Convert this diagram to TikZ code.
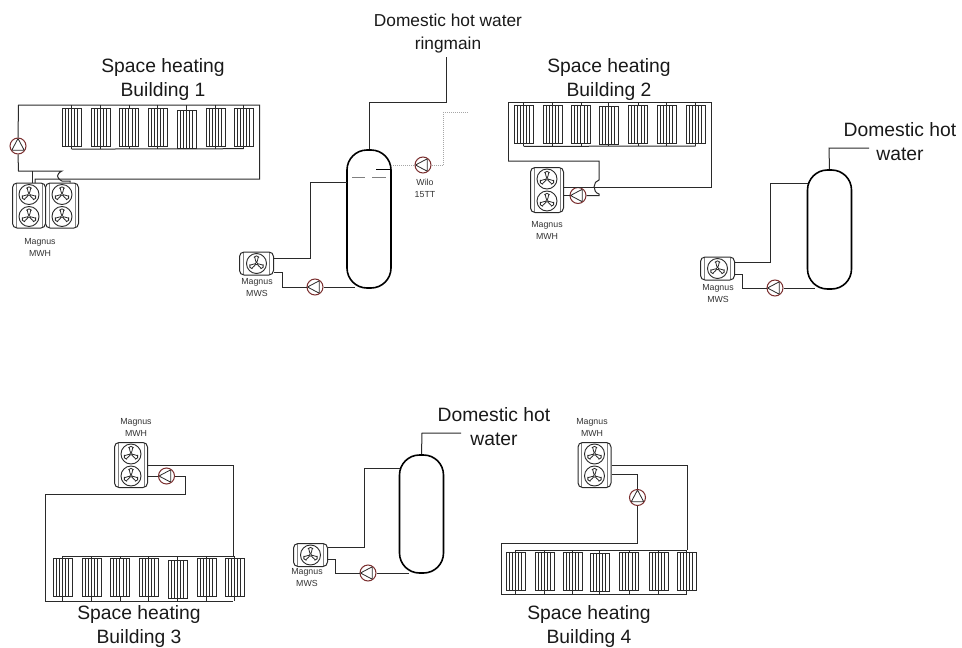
\documentclass[tikz,border=0pt]{standalone}
\usepackage{fontspec}
\setmainfont{Liberation Sans}
\definecolor{pumpred}{HTML}{7A2E2E}
\definecolor{pipe}{HTML}{2A2A2A}
\newcommand{\onefan}[2]{%
  \draw[line width=.9pt,pipe] (#1,#2) circle[radius=10];
  \foreach \a in {270,30,150}{%
    \draw[line width=.8pt,pipe] (#1,#2) .. controls ([shift={(#1,#2)}]\a+22:5) and ([shift={(#1,#2)}]\a+10:8) .. ([shift={(#1,#2)}]\a:9.8) .. controls ([shift={(#1,#2)}]\a-10:8) and ([shift={(#1,#2)}]\a-22:5) .. (#1,#2);}%
  \fill[white] (#1,#2) circle[radius=1.3];
  \draw[line width=.6pt,pipe] (#1,#2) circle[radius=1.3];
}
\tikzset{
  x=1pt,y=-1pt,
  pipeline/.style={draw=pipe,line width=1pt},
  dotline/.style={draw=gray!70,line width=1pt,densely dotted},
  biglabel/.style={font=\fontsize{19.3}{24}\selectfont,text=black!90,align=center,inner sep=0pt},
  toplabel/.style={font=\fontsize{17.3}{23}\selectfont,text=black!90,align=center,inner sep=0pt},
  smalllabel/.style={font=\fontsize{8.8}{12}\selectfont,text=black!80,align=center,inner sep=0pt},
  tank/.style={draw=black,line width=1.6pt,rounded corners=20pt,minimum width=44pt,inner sep=0pt,fill=white},
  pumpbase/.style={circle,draw=pumpred,line width=1pt,minimum size=16pt,inner sep=0pt,fill=white},
  pumpup/.style={pumpbase,path picture={\draw[pipe,line width=.8pt] (0,-7.5)--(-6.2,4.2)--(6.2,4.2)--cycle;}},
  pumpleft/.style={pumpbase,path picture={\draw[pipe,line width=.8pt] (-7.5,0)--(4.2,-6.2)--(4.2,6.2)--cycle;}},
  radiator/.style={draw=pipe,line width=.8pt,minimum width=19pt,minimum height=38pt,inner sep=0pt,fill=white,
    path picture={\foreach \q in {-6.5,-3.5,-0.5,3,6}{\draw[pipe,line width=.8pt] (\q,-20)--(\q,20);}}},
  unitbase/.style={draw=pipe,line width=1pt,rounded corners=4.5pt,inner sep=0pt,fill=white},
  twinfan/.style={unitbase,minimum width=33pt,minimum height=45pt,
    path picture={\draw[gray,line width=1pt] (-13,-24)--(-13,24) (13,-24)--(13,24);\onefan{0}{-11}\onefan{0}{11}}},
  onefanunit/.style={unitbase,minimum width=34pt,minimum height=23pt,
    path picture={\draw[gray,line width=1pt] (-13,-13)--(-13,13) (13,-13)--(13,13);\onefan{0}{0}}},
}
\newcommand{\radrow}[5]{% prefix, list x/y, top rail, bottom rail, tick offset
  \foreach \rx/\ry [count=\ri] in {#2}{%
    \node[radiator] (#1\ri) at (\rx+9.5,\ry) {};
    \draw[pipeline,line width=.8pt] (#1\ri.north) -- (#1\ri.north |- 0,#3);
    \draw[pipeline,line width=.8pt] (#1\ri.south) -- (#1\ri.south |- 0,#4);
  }%
}
\begin{document}
\begin{tikzpicture}
\useasboundingbox (0,0) rectangle (962,648);
% ---------- Building 1
\radrow{ra}{62/127,91/127,119.5/127,148/127,177/129,206/127,234/127}{105}{148.7}{0}
\node[pumpup] (pa) at (18,146) {};
\node[twinfan] (ua) at (29,205.5) {};
\node[twinfan] (ub) at (62,205.5) {};
\draw[pipeline] (pa.north) -- (18.5,105) -- (259.5,105) -- (259.5,179) -- (35,179) -- (35,183);
\draw[pipeline] (ra1.south) ++(0,2.7) -- (ra7.south |- 0,148.7);
\draw[pipeline] (pa.south) -- (18.5,171) -- (62,171) .. controls (56,174) and (56,178) .. (62,181) -- (70,181) -- (ub.north -| 70,0);
\draw[pipeline] (32,171) -- (32,183);
\node[smalllabel] (la) at (40,247) {Magnus\\MWH};
\node[biglabel] (ta) at (163,80) {Space heating\\Building 1};
% ---------- Tank 1
\node[tank,minimum height=138pt] (t1) at (369,219) {};
\node[onefanunit] (us1) at (256.5,263.5) {};
\node[pumpleft] (ps1) at (315,287) {};
\node[pumpleft] (pw) at (423,165) {};
\coordinate (rm) at (446.5,57);
\draw[pipeline] (t1.north) -- (369,102) -| (rm);
\draw[pipeline] (347,182.5) -- (310,182.5) -- (310,258) -- (274,258);
\draw[pipeline] (274,272) -- (282,272) -- (282,287) -- (ps1.west);
\draw[pipeline] (ps1.east) -- (355,287);
\draw[dotline] (391,165) -- (pw.west);
\draw[dotline] (pw.east) -- (443,165) -- (443,112.5) -- (468,112.5);
\draw[gray,line width=1pt] (352,177)--(365,177) (372,177)--(386,177);
\draw[black,line width=1.4pt] (376,169.5)--(391,169.5);
\node[smalllabel] (lw) at (425,188) {Wilo\\15TT};
\node[smalllabel] (ls1) at (257,288) {Magnus\\MWS};
\node[toplabel] (tm) at (448,33.5) {Domestic hot water\\ringmain};
% ---------- Building 2
\radrow{rb}{514/124,543/124,571.5/124,599/125,628.5/124,657/124,686/124}{102}{146}{0}
\node[twinfan] (uc) at (547,190) {};
\node[pumpleft] (pb) at (578,195.5) {};
\draw[pipeline] (rb1.south) ++(0,3) -- (rb7.south |- 0,146);
\draw[pipeline] (508,161) -- (508,102) -- (711,102) -- (711,187) -- (uc.east |- 0,187);
\draw[pipeline] (508,161) -- (599,161) -- (599,180) .. controls (593,181) and (592,192) .. (599,194) -- (599,195.5) -- (pb.east);
\draw[pipeline] (pb.west) -- (uc.east |- pb.west);
\node[smalllabel] (lc) at (547,230) {Magnus\\MWH};
\node[biglabel] (tb) at (609,80) {Space heating\\Building 2};
% ---------- Tank 2
\node[tank,minimum height=119pt] (t2) at (829.5,229.5) {};
\node[onefanunit] (us2) at (717.5,268.5) {};
\node[pumpleft] (ps2) at (775,288) {};
\draw[pipeline] (t2.north) -- (829,148) -- (869,148);
\draw[pipeline] (807.5,183) -- (770.5,183) -- (770.5,262) -- (734,262);
\draw[pipeline] (734,274) -- (742,274) -- (742,288) -- (ps2.west);
\draw[pipeline] (ps2.east) -- (815,288);
\node[smalllabel] (ls2) at (718,294) {Magnus\\MWS};
\node[biglabel] (td) at (900,142) {Domestic hot\\water};
% ---------- Building 3
\radrow{rc}{53/577,82/577,110.5/577,139/577,168/579,197/577,225/577}{556}{601}{0}
\node[twinfan] (ud) at (131,465) {};
\node[pumpleft] (pc) at (166.5,476) {};
\draw[pipeline] (63,556) -- (233.5,556) -- (233.5,465) -- (ud.east |- 0,465);
\draw[pipeline] (ud.east |- pc.west) -- (pc.west);
\draw[pipeline] (pc.east) -- (185,476) -- (185,494) -- (45,494) -- (45,601) -- (233,601);
\node[smalllabel] (ld) at (136,427) {Magnus\\MWH};
\node[biglabel] (te) at (139,627) {Space heating\\Building 3};
% ---------- Tank 3
\node[tank,minimum height=118pt] (t3) at (421.5,514) {};
\node[onefanunit] (us3) at (310.5,555) {};
\node[pumpleft] (ps3) at (368,573) {};
\draw[pipeline] (t3.north) -- (422,433) -- (461,433);
\draw[pipeline] (399.5,468.5) -- (364,468.5) -- (364,547) -- (328,547);
\draw[pipeline] (328,559) -- (335.5,559) -- (335.5,573) -- (ps3.west);
\draw[pipeline] (ps3.east) -- (409,573);
\node[smalllabel] (ls3) at (307,578) {Magnus\\MWS};
\node[biglabel] (tf) at (494,427) {Domestic hot\\water};
% ---------- Building 4
\radrow{rd}{506/571,535/571,563/571,590/572.5,619.5/571,649/571,677/571}{550}{594}{0}
\node[twinfan] (ue) at (594.5,465) {};
\node[pumpup] (pd) at (637.5,497.5) {};
\draw[pipeline] (515,550) -- (687,550);
\draw[pipeline] (ue.east |- 0,465) -- (687,465) -- (687,550);
\draw[pipeline] (ue.east |- 0,474) -- (637.5,474) -- (pd.north);
\draw[pipeline] (pd.south) -- (637.5,543) -- (501,543) -- (501,594) -- (687,594);
\node[smalllabel] (le) at (592,427) {Magnus\\MWH};
\node[biglabel] (tg) at (589,627) {Space heating\\Building 4};
\end{tikzpicture}
\end{document}
